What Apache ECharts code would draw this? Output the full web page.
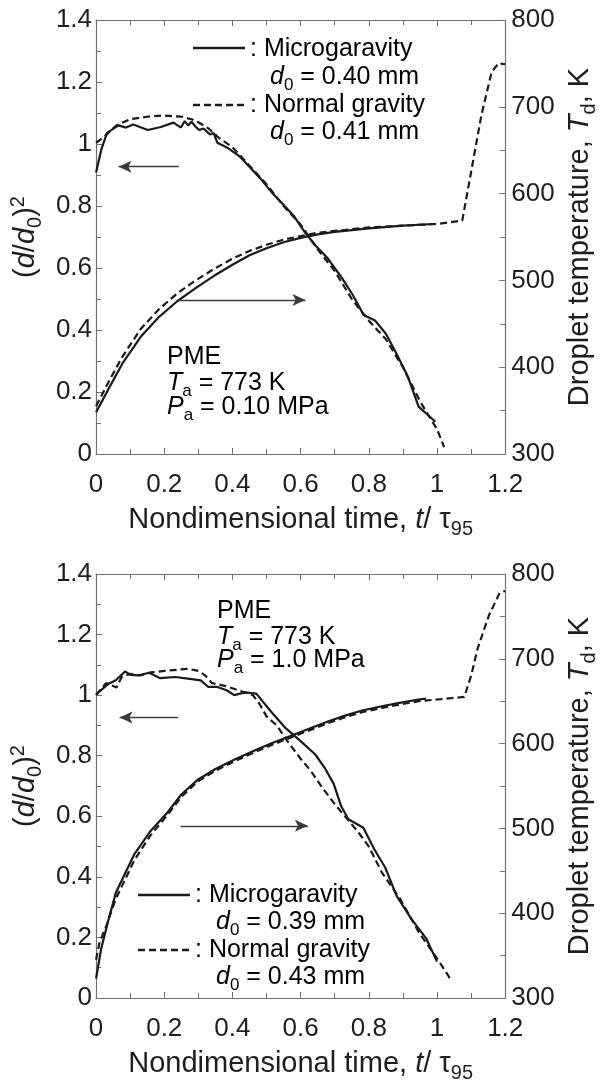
<!DOCTYPE html>
<html><head><meta charset="utf-8">
<script src="https://cdn.jsdelivr.net/npm/echarts@6/dist/echarts.min.js"></script>
<style>html,body{margin:0;padding:0;background:#fff}#c{width:607px;height:1084px}</style>
</head><body><div id="c"></div>
<script>
// ---------- data ----------
const xTickValues = [0, 0.2, 0.4, 0.6, 0.8, 1, 1.2];
const leftTickValues = [0, 0.2, 0.4, 0.6, 0.8, 1, 1.2, 1.4];
const rightTickValues = [300, 400, 500, 600, 700, 800];

// Top panel: Pa = 0.10 MPa
const topMicroD2 = [[0,0.908],[0.015,0.98],[0.032,1.036],[0.066,1.06],[0.088,1.053],[0.109,1.063],[0.152,1.045],[0.19,1.055],[0.227,1.069],[0.249,1.053],[0.26,1.074],[0.27,1.06],[0.28,1.072],[0.29,1.058],[0.302,1.045],[0.315,1.05],[0.334,1.031],[0.345,1.035],[0.356,1.004],[0.388,0.986],[0.42,0.961],[0.452,0.924],[0.484,0.886],[0.516,0.843],[0.549,0.805],[0.58,0.768],[0.613,0.714],[0.645,0.671],[0.678,0.633],[0.721,0.568],[0.753,0.513],[0.785,0.448],[0.818,0.431],[0.85,0.388],[0.882,0.322],[0.914,0.251],[0.946,0.153],[0.979,0.12],[0.995,0.104]];
const topNormalD2 = [[0,1.004],[0.02,1.02],[0.06,1.06],[0.1,1.08],[0.15,1.088],[0.2,1.092],[0.25,1.088],[0.28,1.08],[0.3,1.07],[0.33,1.05],[0.36,1.02],[0.4,0.99],[0.45,0.93],[0.5,0.87],[0.55,0.8],[0.6,0.74],[0.65,0.66],[0.7,0.59],[0.75,0.5],[0.8,0.43],[0.85,0.37],[0.9,0.28],[0.95,0.17],[1.0,0.08],[1.021,0.022]];
const topMicroT = [[0,348],[0.034,373],[0.077,404],[0.131,435],[0.185,458],[0.238,476],[0.292,491],[0.345,505],[0.4,518],[0.45,529],[0.5,537],[0.55,544],[0.6,549],[0.65,553],[0.7,556],[0.8,560],[0.9,563],[0.99,565]];
const topNormalT = [[0,355],[0.034,381],[0.077,412],[0.131,444],[0.185,467],[0.238,485],[0.292,500],[0.345,513],[0.4,525],[0.45,534],[0.5,541],[0.55,547],[0.6,551],[0.65,555],[0.7,557],[0.8,561],[0.9,563],[1.0,565],[1.074,569],[1.1,625],[1.13,690],[1.16,740],[1.18,750],[1.2,749]];

// Bottom panel: Pa = 1.0 MPa
const botMicroD2 = [[0,1.002],[0.037,1.038],[0.058,1.049],[0.085,1.078],[0.102,1.067],[0.123,1.065],[0.156,1.074],[0.188,1.056],[0.232,1.06],[0.275,1.054],[0.307,1.049],[0.329,1.027],[0.356,1.027],[0.383,1.016],[0.405,1.0],[0.437,1.009],[0.47,1.005],[0.513,0.946],[0.556,0.891],[0.6,0.848],[0.643,0.804],[0.67,0.761],[0.697,0.707],[0.719,0.633],[0.74,0.59],[0.784,0.562],[0.816,0.491],[0.848,0.431],[0.881,0.338],[0.924,0.262],[0.968,0.197],[1.0,0.12]];
const botNormalD2 = [[0,1.0],[0.03,1.04],[0.06,1.025],[0.075,1.06],[0.1,1.07],[0.13,1.065],[0.16,1.075],[0.2,1.08],[0.27,1.087],[0.3,1.08],[0.32,1.065],[0.34,1.04],[0.38,1.03],[0.42,1.015],[0.46,1.0],[0.48,0.97],[0.5,0.93],[0.53,0.9],[0.56,0.85],[0.6,0.79],[0.63,0.75],[0.66,0.7],[0.7,0.64],[0.73,0.6],[0.77,0.546],[0.8,0.5],[0.838,0.415],[0.892,0.327],[0.946,0.218],[1.0,0.131],[1.038,0.065]];
const botMicroT = [[0,323],[0.015,358],[0.037,393],[0.058,424],[0.113,470],[0.16,497],[0.21,519],[0.25,540],[0.297,557],[0.35,570],[0.405,581],[0.46,591],[0.513,600],[0.57,609],[0.621,617],[0.68,626],[0.73,633],[0.78,639],[0.838,644],[0.89,648],[0.946,652],[0.968,653]];
const botNormalT = [[0,345],[0.01,365],[0.03,385],[0.058,417],[0.113,463],[0.16,492],[0.21,516],[0.25,537],[0.297,555],[0.35,568],[0.405,579],[0.46,589],[0.513,598],[0.57,607],[0.621,615],[0.68,624],[0.73,631],[0.78,637],[0.838,642],[0.89,646],[0.946,650],[1.0,652],[1.08,655],[1.1,680],[1.119,712],[1.152,751],[1.184,778],[1.2,780]];

// arrows (data coordinates): [from, to]
const topLeftArrow = [[0.243,0.927],[0.066,0.927]];
const topRightArrow = [[0.243,477.5],[0.614,477.5]];
const botLeftArrow = [[0.24,0.926],[0.069,0.926]];
const botRightArrow = [[0.248,503],[0.621,503]];

// ---------- styling ----------
const FONT = '"Liberation Sans", Arial, sans-serif';
const TXT = '#1e1e1e';
const AXC = '#707070';
const LINEC = '#1a1a1a';
const DASH = [7, 4];

const titleRich = {
  n: {fontSize: 29, fontFamily: FONT, color: TXT},
  i: {fontSize: 29, fontFamily: FONT, color: TXT, fontStyle: 'italic'},
  sub: {fontSize: 20, fontFamily: FONT, color: TXT, padding: [18, 0, 0, 0]},
  sup: {fontSize: 20, fontFamily: FONT, color: TXT, padding: [0, 0, 16, 0]}
};
const annRich = {
  n: {fontSize: 25, fontFamily: FONT, color: TXT},
  i: {fontSize: 25, fontFamily: FONT, color: TXT, fontStyle: 'italic'},
  sub: {fontSize: 17, fontFamily: FONT, color: TXT, padding: [16, 0, 0, 0]}
};

const grids = [
  {left: 87, top: 20, width: 435, height: 434},
  {left: 87, top: 574, width: 429, height: 429}
];

function fmt1(v){ return String(+v.toFixed(1)); }

function xAxes(gi){
  return [
    {gridIndex: gi, type: 'value', min: 0, max: 1.2, interval: 0.2, position: 'bottom',
     axisLine: {show: true, onZero: false, lineStyle: {color: AXC, width: 1.2}},
     axisTick: {show: true, inside: true, length: 6, lineStyle: {color: AXC}},
     minorTick: {show: true, splitNumber: 2, length: 5, lineStyle: {color: AXC}},
     splitLine: {show: false},
     axisLabel: {fontSize: 26, fontFamily: FONT, color: TXT, margin: 18, formatter: fmt1},
     name: '{n|Nondimensional time, }{i|t}{n|/ τ}{sub|95}',
     nameLocation: 'middle', nameGap: 47,
     nameTextStyle: {rich: titleRich}},
    {gridIndex: gi, type: 'value', min: 0, max: 1.2, interval: 0.2, position: 'top',
     axisLine: {show: true, onZero: false, lineStyle: {color: AXC, width: 1.2}},
     axisTick: {show: true, inside: true, length: 6, lineStyle: {color: AXC}},
     minorTick: {show: true, splitNumber: 2, length: 5, lineStyle: {color: AXC}},
     splitLine: {show: false}, axisLabel: {show: false}}
  ];
}
function yAxes(gi){
  return [
    {gridIndex: gi, type: 'value', min: 0, max: 1.4, interval: 0.2, position: 'left',
     axisLine: {show: true, onZero: false, lineStyle: {color: AXC, width: 1.2}},
     axisTick: {show: true, inside: true, length: 6, lineStyle: {color: AXC}},
     minorTick: {show: true, splitNumber: 2, length: 5, lineStyle: {color: AXC}},
     splitLine: {show: false},
     axisLabel: {fontSize: 26, fontFamily: FONT, color: TXT, margin: 4, formatter: fmt1},
     name: '{n|(}{i|d}{n|/}{i|d}{sub|0}{n|)}{sup|2}',
     nameLocation: 'middle', nameRotate: 90, nameGap: 36,
     nameTextStyle: {rich: titleRich}},
    {gridIndex: gi, type: 'value', min: 300, max: 800, interval: 100, position: 'right',
     axisLine: {show: true, onZero: false, lineStyle: {color: AXC, width: 1.2}},
     axisTick: {show: true, inside: true, length: 6, lineStyle: {color: AXC}},
     minorTick: {show: true, splitNumber: 2, length: 5, lineStyle: {color: AXC}},
     splitLine: {show: false},
     axisLabel: {fontSize: 26, fontFamily: FONT, color: TXT, margin: 6},
     name: '{n|Droplet temperature, }{i|T}{sub|d}{n|, K}',
     nameLocation: 'middle', nameRotate: 90, nameGap: 55,
     nameTextStyle: {rich: titleRich}}
  ];
}

function arrowMark(a){
  return {
    silent: true, symbol: ['none', 'arrow'], symbolSize: [9, 13],
    lineStyle: {color: '#3a3a3a', width: 1.3, type: 'solid'},
    label: {show: false}, emphasis: {disabled: true},
    data: [[{coord: a[0]}, {coord: a[1]}]]
  };
}
function line(data, xi, yi, dashed, arrow){
  const s = {
    type: 'line', data: data, xAxisIndex: xi, yAxisIndex: yi,
    showSymbol: false, symbol: 'none', smooth: false, clip: false,
    lineStyle: {color: LINEC, width: 2.2, type: dashed ? DASH : 'solid'},
    emphasis: {disabled: true}, z: 3
  };
  if (arrow) s.markLine = arrowMark(arrow);
  return s;
}

function txt(x, y, rich){
  return {type: 'text', x: x, y: y, z: 10,
    style: {text: rich, rich: annRich, align: 'left', verticalAlign: 'middle'}};
}
function seg(x1, x2, y, dashed){
  return {type: 'line', z: 10, shape: {x1: x1, y1: y, x2: x2, y2: y},
    style: {stroke: LINEC, lineWidth: 2.5, lineDash: dashed ? DASH : null}};
}

const option = {
  animation: false,
  backgroundColor: '#fff',
  grid: grids,
  xAxis: [...xAxes(0), ...xAxes(1)],
  yAxis: [...yAxes(0), ...yAxes(1)],
  series: [
    line(topMicroD2, 0, 0, false, topLeftArrow),
    line(topNormalD2, 0, 0, true),
    line(topMicroT, 0, 1, false, topRightArrow),
    line(topNormalT, 0, 1, true),
    line(botMicroD2, 2, 2, false, botLeftArrow),
    line(botNormalD2, 2, 2, true),
    line(botMicroT, 2, 3, false, botRightArrow),
    line(botNormalT, 2, 3, true)
  ],
  graphic: [
    seg(193, 245, 48, false),
    txt(250, 49, '{n|: Microgaravity}'),
    txt(270, 77, '{i|d}{sub|0}{n| = 0.40 mm}'),
    seg(193, 245, 105, true),
    txt(250, 105, '{n|: Normal gravity}'),
    txt(270, 132, '{i|d}{sub|0}{n| = 0.41 mm}'),
    txt(167, 357, '{n|PME}'),
    txt(167, 383, '{i|T}{sub|a}{n| = 773 K}'),
    txt(167, 407, '{i|P}{sub|a}{n| = 0.10 MPa}'),

    txt(217, 611, '{n|PME}'),
    txt(217, 637, '{i|T}{sub|a}{n| = 773 K}'),
    txt(217, 660, '{i|P}{sub|a}{n| = 1.0 MPa}'),
    seg(138, 190, 895, false),
    txt(195, 895, '{n|: Microgaravity}'),
    txt(216, 922, '{i|d}{sub|0}{n| = 0.39 mm}'),
    seg(138, 190, 950, true),
    txt(195, 950, '{n|: Normal gravity}'),
    txt(216, 977, '{i|d}{sub|0}{n| = 0.43 mm}')
  ]
};

const chart = echarts.init(document.getElementById('c'), null, {renderer: 'canvas'});
chart.setOption(option);
</script>
</body></html>
